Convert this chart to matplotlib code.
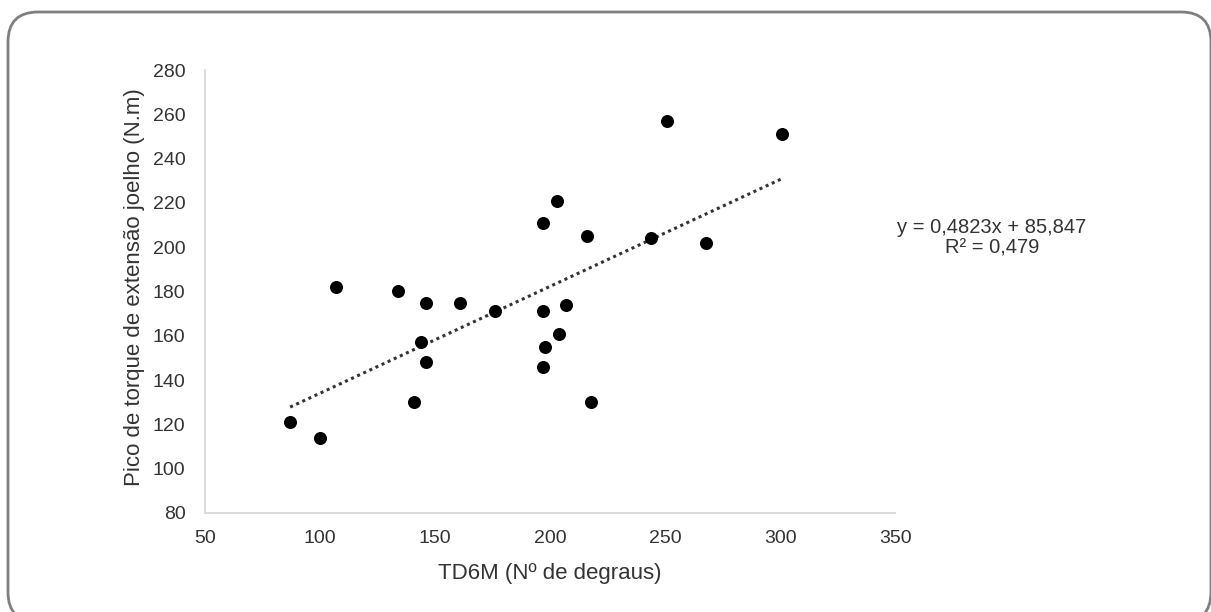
import matplotlib
matplotlib.use("Agg")
import matplotlib.pyplot as plt  # noqa: E402
import numpy as np  # noqa: E402
from matplotlib.patches import FancyBboxPatch  # noqa: E402

plt.rcParams["font.family"] = ["Liberation Sans", "DejaVu Sans"]

# TD6M (number of steps) vs peak knee extension torque
steps = [87, 100, 107, 134, 141, 144, 146, 146, 161, 176, 197, 197,
         197, 198, 203, 204, 207, 216, 218, 244, 251, 268, 301]
torque = [121, 114, 182, 180, 130, 157, 175, 148, 175, 171, 211, 171,
          146, 155, 221, 161, 174, 205, 130, 204, 257, 202, 251]

slope = 0.4823
intercept = 85.847
r2 = 0.479

x_ticks = [50, 100, 150, 200, 250, 300, 350]
y_ticks = [80, 100, 120, 140, 160, 180, 200, 220, 240, 260, 280]

text_color = "#333333"

fig = plt.figure(figsize=(12.11, 6.12), dpi=100)

# rounded frame around the chart area
bg = fig.add_axes([0, 0, 1, 1])
bg.set_xlim(0, 1211)
bg.set_ylim(612, 0)
bg.axis("off")
bg.add_patch(FancyBboxPatch((8, 12), 1203, 610, boxstyle="round,pad=0,rounding_size=30",
                            facecolor="white", edgecolor="#7f7f7f", linewidth=2))

ax = fig.add_axes([0.1693, 0.1618, 0.5698, 0.7238])
ax.patch.set_alpha(0)
ax.scatter(steps, torque, s=70, color="black", zorder=3)

xs = np.array([min(steps), max(steps)])
ax.plot(xs, slope * xs + intercept, linestyle=(0, (1, 1.2)), color="#333333", linewidth=2.2)

ax.set_xlim(50, 350)
ax.set_ylim(80, 280)
ax.set_xticks(x_ticks)
ax.set_yticks(y_ticks)
ax.tick_params(length=0, labelsize=14, colors=text_color)
ax.tick_params(axis="x", pad=12)
ax.tick_params(axis="y", pad=14)
for side in ["top", "right"]:
    ax.spines[side].set_visible(False)
for side in ["left", "bottom"]:
    ax.spines[side].set_color("#d9d9d9")
    ax.spines[side].set_linewidth(1.3)

ax.set_xlabel("TD6M (Nº de degraus)", fontsize=16, color=text_color)
ax.set_ylabel("Pico de torque de extensão joelho (N.m)", fontsize=16, color=text_color)
ax.xaxis.set_label_coords(0.5, -0.113)
ax.yaxis.set_label_coords(-0.087, 0.51)

fig.text(0.819, 0.6275, f"y = {slope:.4f}x + {intercept:.3f}".replace(".", ","),
         ha="center", va="center", fontsize=14.5, color=text_color)
fig.text(0.819, 0.5948, f"R² = {r2:.3f}".replace(".", ","),
         ha="center", va="center", fontsize=14.5, color=text_color)

fig.savefig("out.png", dpi=100)
